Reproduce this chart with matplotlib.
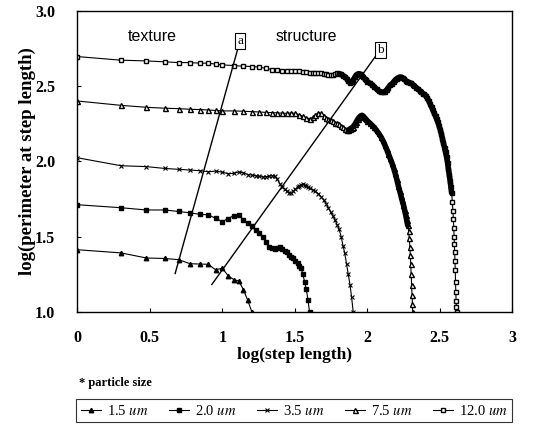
import matplotlib
matplotlib.use("Agg")
import matplotlib.pyplot as plt
import numpy as np

plt.rcParams['font.family'] = ['Liberation Serif', 'DejaVu Serif']
plt.rcParams['mathtext.fontset'] = 'stix'

# log(step length) / log(perimeter) for each particle size
x_15 = [0, 0.301, 0.477, 0.602, 0.699, 0.778, 0.845, 0.903, 0.954, 1.0, 1.041, 1.079,
        1.114, 1.146, 1.176, 1.204]
y_15 = [1.413, 1.392, 1.358, 1.355, 1.347, 1.320, 1.318, 1.316, 1.280, 1.290, 1.240, 1.215,
        1.205, 1.148, 1.076, 1.0]

x_20 = [0, 0.301, 0.477, 0.602, 0.699, 0.778, 0.845, 0.903, 0.954, 1.0, 1.041, 1.079,
        1.114, 1.146, 1.176, 1.204, 1.230, 1.255, 1.279, 1.301, 1.322, 1.342, 1.362, 1.380,
        1.398, 1.415, 1.431, 1.447, 1.462, 1.477, 1.491, 1.505, 1.519, 1.531, 1.544, 1.556,
        1.568, 1.580, 1.591, 1.602]
y_20 = [1.712, 1.692, 1.677, 1.677, 1.667, 1.658, 1.648, 1.645, 1.622, 1.600, 1.620, 1.640,
        1.642, 1.612, 1.590, 1.568, 1.545, 1.522, 1.500, 1.462, 1.432, 1.425, 1.418, 1.425,
        1.432, 1.420, 1.405, 1.398, 1.380, 1.365, 1.355, 1.340, 1.325, 1.305, 1.290, 1.250,
        1.200, 1.150, 1.080, 1.0]

x_35 = [0, 0.301, 0.477, 0.602, 0.699, 0.778, 0.845, 0.903, 0.954, 1.0, 1.041, 1.079,
        1.114, 1.146, 1.176, 1.204, 1.230, 1.255, 1.279, 1.301, 1.322, 1.342, 1.362, 1.380,
        1.398, 1.415, 1.431, 1.447, 1.462, 1.477, 1.491, 1.505, 1.519, 1.531, 1.544, 1.556,
        1.568, 1.580, 1.591, 1.602, 1.623, 1.643, 1.663, 1.681, 1.699, 1.716, 1.732, 1.748,
        1.763, 1.778, 1.792, 1.806, 1.820, 1.833, 1.845, 1.857, 1.869, 1.881, 1.892, 1.903]
y_35 = [2.024, 1.971, 1.965, 1.953, 1.947, 1.942, 1.938, 1.931, 1.935, 1.928, 1.918, 1.920,
        1.930, 1.924, 1.912, 1.909, 1.905, 1.900, 1.896, 1.898, 1.902, 1.906, 1.900, 1.880,
        1.850, 1.828, 1.815, 1.800, 1.792, 1.787, 1.800, 1.815, 1.830, 1.838, 1.845, 1.848,
        1.842, 1.835, 1.828, 1.822, 1.812, 1.800, 1.785, 1.765, 1.745, 1.720, 1.690, 1.662,
        1.640, 1.610, 1.580, 1.548, 1.500, 1.440, 1.390, 1.320, 1.250, 1.180, 1.100, 1.0]

x_75 = [0, 0.301, 0.477, 0.602, 0.699, 0.778, 0.845, 0.903, 0.954, 1.0, 1.079, 1.146,
        1.204, 1.255, 1.301, 1.342, 1.380, 1.415, 1.447, 1.477, 1.505, 1.531, 1.556, 1.580,
        1.602, 1.623, 1.643, 1.663, 1.681, 1.699, 1.716, 1.732, 1.748, 1.763, 1.778, 1.792,
        1.806, 1.820, 1.833, 1.845, 1.857, 1.869, 1.881, 1.892, 1.903, 1.914, 1.924, 1.934,
        1.944, 1.954, 1.964, 1.973, 1.982, 1.991, 2.0, 2.017, 2.033, 2.049, 2.064, 2.079,
        2.093, 2.107, 2.121, 2.134, 2.146, 2.158, 2.170, 2.182, 2.193, 2.204, 2.215, 2.225,
        2.233, 2.241, 2.250, 2.258, 2.265, 2.272, 2.279, 2.286, 2.290, 2.294, 2.297, 2.300,
        2.303, 2.306, 2.309, 2.312, 2.314]
y_75 = [2.401, 2.372, 2.359, 2.353, 2.350, 2.346, 2.344, 2.341, 2.338, 2.335, 2.335, 2.333,
        2.330, 2.328, 2.325, 2.324, 2.322, 2.320, 2.319, 2.322, 2.318, 2.310, 2.300, 2.290,
        2.283, 2.292, 2.310, 2.324, 2.318, 2.300, 2.290, 2.283, 2.275, 2.265, 2.258, 2.255,
        2.250, 2.238, 2.225, 2.212, 2.206, 2.208, 2.215, 2.222, 2.230, 2.245, 2.262, 2.278,
        2.292, 2.302, 2.306, 2.300, 2.290, 2.280, 2.270, 2.255, 2.240, 2.225, 2.205, 2.185,
        2.165, 2.140, 2.110, 2.080, 2.050, 2.020, 1.990, 1.955, 1.920, 1.880, 1.835, 1.800,
        1.770, 1.740, 1.710, 1.675, 1.645, 1.610, 1.575, 1.540, 1.490, 1.430, 1.380, 1.320,
        1.250, 1.180, 1.110, 1.050, 1.0]

x_120 = [0, 0.301, 0.477, 0.602, 0.699, 0.778, 0.845, 0.903, 0.954, 1.0, 1.079, 1.146,
         1.204, 1.255, 1.301, 1.342, 1.380, 1.415, 1.447, 1.477, 1.505, 1.531, 1.556, 1.580,
         1.602, 1.623, 1.643, 1.663, 1.681, 1.699, 1.716, 1.732, 1.748, 1.763, 1.778, 1.792,
         1.806, 1.820, 1.833, 1.845, 1.857, 1.869, 1.881, 1.892, 1.903, 1.914, 1.924, 1.934,
         1.944, 1.954, 1.964, 1.973, 1.982, 1.991, 2.0, 2.017, 2.033, 2.049, 2.064, 2.079,
         2.093, 2.107, 2.121, 2.134, 2.146, 2.158, 2.170, 2.182, 2.193, 2.204, 2.215, 2.225,
         2.236, 2.246, 2.255, 2.265, 2.274, 2.283, 2.292, 2.301, 2.314, 2.326, 2.338, 2.350,
         2.362, 2.373, 2.384, 2.394, 2.405, 2.415, 2.425, 2.435, 2.444, 2.453, 2.462, 2.471,
         2.479, 2.487, 2.496, 2.504, 2.512, 2.519, 2.526, 2.533, 2.540, 2.547, 2.554, 2.560,
         2.566, 2.572, 2.577, 2.582, 2.587, 2.591, 2.594, 2.597, 2.599, 2.601, 2.603, 2.605,
         2.607, 2.609, 2.611, 2.613, 2.615, 2.617]
y_120 = [2.696, 2.672, 2.667, 2.661, 2.656, 2.656, 2.652, 2.652, 2.646, 2.641, 2.636, 2.632,
         2.630, 2.626, 2.618, 2.610, 2.606, 2.603, 2.601, 2.601, 2.598, 2.597, 2.594, 2.592,
         2.590, 2.589, 2.587, 2.586, 2.585, 2.582, 2.578, 2.575, 2.572, 2.576, 2.582, 2.585,
         2.583, 2.578, 2.570, 2.563, 2.550, 2.535, 2.522, 2.525, 2.540, 2.558, 2.572, 2.580,
         2.582, 2.578, 2.570, 2.560, 2.550, 2.540, 2.530, 2.520, 2.510, 2.495, 2.480, 2.468,
         2.460, 2.458, 2.462, 2.475, 2.490, 2.505, 2.515, 2.528, 2.540, 2.550, 2.556, 2.560,
         2.558, 2.552, 2.545, 2.537, 2.530, 2.525, 2.522, 2.520, 2.510, 2.500, 2.490, 2.480,
         2.470, 2.460, 2.450, 2.445, 2.435, 2.420, 2.400, 2.380, 2.360, 2.340, 2.320, 2.300,
         2.280, 2.260, 2.235, 2.210, 2.180, 2.150, 2.120, 2.090, 2.060, 2.030, 1.990, 1.950,
         1.910, 1.870, 1.830, 1.790, 1.730, 1.670, 1.620, 1.560, 1.500, 1.450, 1.400, 1.340,
         1.280, 1.200, 1.130, 1.070, 1.030, 1.0]

sizes = ['1.5', '2.0', '3.5', '7.5', '12.0']

# boundary lines between texture and structure regions
a_x = [0.675, 1.115]
a_y = [1.255, 2.775]
b_x = [0.928, 2.070]
b_y = [1.182, 2.715]

fig = plt.figure(figsize=(5.33, 4.32), dpi=100)
ax = fig.add_axes([0.145, 0.278, 0.816, 0.697])

# (x, y, marker style, x-range where the points pile up into a solid band)
series = [
    (x_15, y_15, dict(marker='^', ms=3.2, mfc='black'), None),
    (x_20, y_20, dict(marker='s', ms=3.2, mfc='black'), None),
    (x_35, y_35, dict(marker='x', ms=3.0, mew=0.8), None),
    (x_75, y_75, dict(marker='^', ms=3.6, mfc='white'), (1.86, 2.28)),
    (x_120, y_120, dict(marker='s', ms=3.4, mfc='white'), (1.80, 2.582)),
]
handles = []
for xs, ys, style, band in series:
    h, = ax.plot(xs, ys, color='black', lw=0.8, mec='black', **style)
    handles.append(h)
    if band:
        xs_a, ys_a = np.array(xs), np.array(ys)
        m = (xs_a >= band[0]) & (xs_a <= band[1])
        ax.plot(xs_a[m], ys_a[m], color='black', lw=4.0, solid_capstyle='round',
                solid_joinstyle='round')

ax.plot(a_x, a_y, color='black', lw=1.0)
ax.plot(b_x, b_y, color='black', lw=1.0)
ax.text(a_x[1] + 0.01, a_y[1] + 0.025, 'a', fontsize=9.5, ha='center', va='center',
        bbox=dict(boxstyle='square,pad=0.15', fc='white', ec='black', lw=0.8))
ax.text(b_x[1] + 0.02, b_y[1] + 0.025, 'b', fontsize=9.5, ha='center', va='center',
        bbox=dict(boxstyle='square,pad=0.15', fc='white', ec='black', lw=0.8))

ax.text(0.52, 2.83, 'texture', family='Liberation Sans', fontsize=11.5,
        ha='center', va='center')
ax.text(1.58, 2.83, 'structure', family='Liberation Sans', fontsize=11.3,
        ha='center', va='center')

ax.set_xlim(0, 3)
ax.set_ylim(1.0, 3.0)
ax.set_xticks([0, 0.5, 1, 1.5, 2, 2.5, 3])
ax.set_xticklabels(['0', '0.5', '1', '1.5', '2', '2.5', '3'])
ax.set_yticks([1.0, 1.5, 2.0, 2.5, 3.0])
ax.set_yticklabels(['1.0', '1.5', '2.0', '2.5', '3.0'])
ax.tick_params(direction='in', length=3, width=0.8, labelsize=11.5)
ax.tick_params(axis='x', pad=13)
ax.tick_params(axis='y', pad=16)
for lab in ax.get_xticklabels() + ax.get_yticklabels():
    lab.set_fontweight('bold')
for sp in ax.spines.values():
    sp.set_linewidth(1.0)

ax.set_xlabel('log(step length)', fontsize=12.5, fontweight='bold', labelpad=1)
ax.set_ylabel('log(perimeter at step length)', fontsize=13.5, fontweight='bold', labelpad=-1)

fig.text(0.148, 0.106, '* particle size', fontsize=9, fontweight='bold')
labels = [s + ' $\\mathit{um}$' for s in sizes]
leg = fig.legend(handles, labels, loc='lower left', bbox_to_anchor=(0.143, 0.023, 0.818, 0.058),
                 mode='expand', ncol=5, frameon=True, fancybox=False, fontsize=10.5,
                 handlelength=1.4, handletextpad=0.4, borderpad=0.3, columnspacing=0.8,
                 borderaxespad=0)
leg.get_frame().set_edgecolor('black')
leg.get_frame().set_linewidth(0.8)

fig.savefig('out.png', dpi=100)
